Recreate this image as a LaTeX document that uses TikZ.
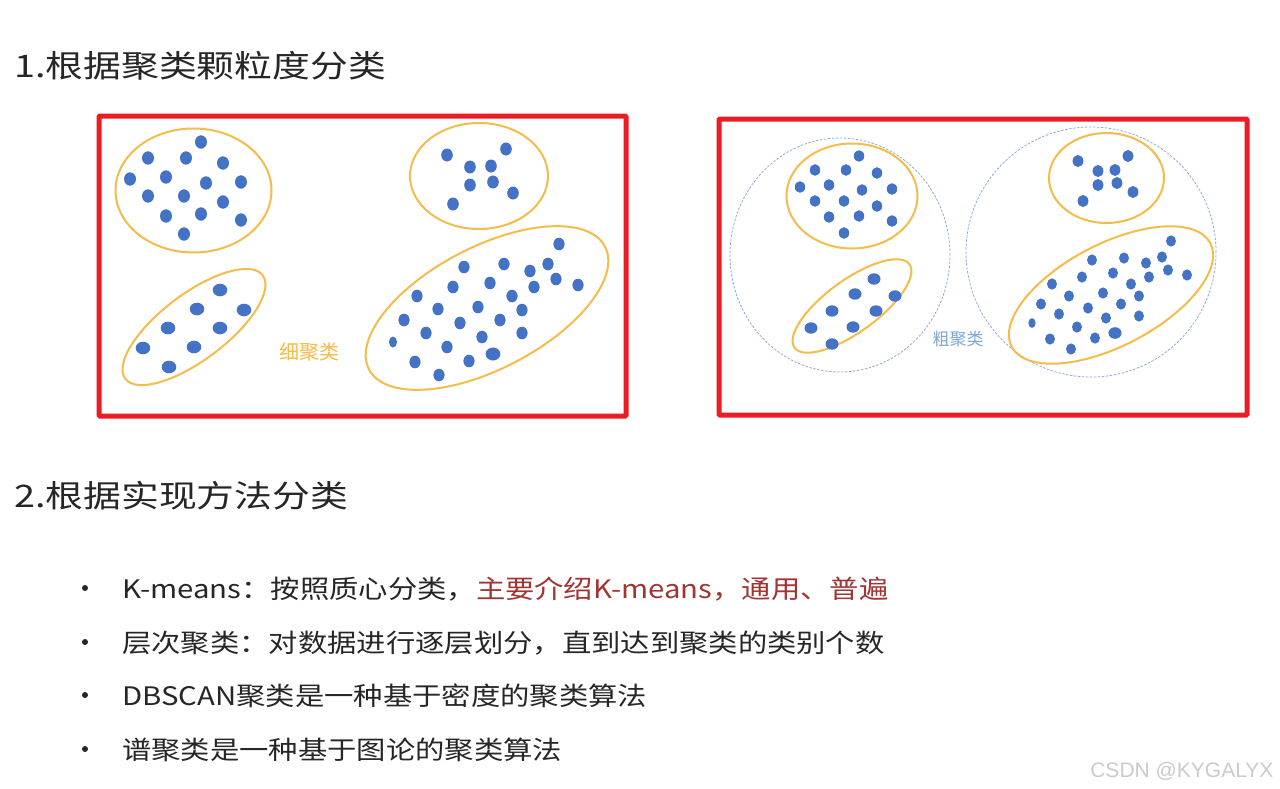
\documentclass[tikz,border=0pt]{standalone}
\usepackage{fontspec}
\setmainfont{Noto Sans CJK SC}
\newfontfamily\cjk{Noto Sans CJK SC}
\newfontfamily\cjkwide[FakeStretch=1.22]{Noto Sans CJK SC}
\newfontfamily\cjkitem[FakeStretch=1.15]{Noto Sans CJK SC}
\newfontfamily\wmfont{Liberation Sans}
\usepackage{tikz}
\usetikzlibrary{positioning}
\definecolor{frame}{HTML}{EC1C24}
\definecolor{gold}{HTML}{F4BC4A}
\definecolor{dotblue}{HTML}{4472C4}
\definecolor{halo}{HTML}{8FAADC}
\definecolor{halotext}{HTML}{7EA6D8}
\definecolor{ink}{HTML}{262626}
\definecolor{rust}{HTML}{A23433}
\definecolor{wmgray}{HTML}{CBCBCB}
\tikzset{
  panel/.style={draw=frame, line width=5pt, rounded corners=1pt},
  ring/.style={draw=gold, line width=2pt},
  coarse/.style={draw=halo, line width=0.8pt, dash pattern=on 2.5pt off 1.5pt},
  blob/.style={fill=dotblue},
  heading/.style={anchor=base west, inner sep=0pt, font=\cjkwide\fontsize{31}{36}\selectfont, text=ink},
  item/.style={anchor=base west, inner sep=0pt, font=\cjkitem\fontsize{25.5}{30}\selectfont, text=ink}
}

\begin{document}
\begin{tikzpicture}[x=1pt, y=-1pt]
  \useasboundingbox (0,0) rectangle (1280,788);
  \fill[white] (0,0) rectangle (1280,788);

  % Headings
  \node[heading] (headA) at (14,77) {1.根据聚类颗粒度分类};
  \node[heading] (headB) at (14,507) {2.根据实现方法分类};

  % Left panel: fine clustering
  \draw[panel] (99,116) rectangle (626,416);
  \draw[ring] (193.5,190.5) ellipse [x radius=78pt, y radius=62pt];
  \draw[ring, rotate around={37:(194,327)}] (194,327) ellipse [x radius=86pt, y radius=33pt];
  \draw[ring] (479,176) ellipse [x radius=69pt, y radius=53pt];
  \draw[ring, rotate around={27.5:(487,308)}] (487,308) ellipse [x radius=133pt, y radius=61pt];
  \foreach \x/\y in {148/158,186/158,201/142,223/163,130/179,166/177,206/183,241/182,
                     148/196,184/196,223/202,166/216,201/214,241/220,184/234}
    \fill[blob] (\x,\y) ellipse [x radius=6pt, y radius=6.7pt];
  \foreach \x/\y in {143/348,168/328,197/309,220/290,244/310,220/328,194/347,169/367}
    \fill[blob] (\x,\y) ellipse [x radius=7.3pt, y radius=6.3pt];
  \foreach \x/\y in {447/155,470/167,491/166,506/149,470/185,493/182,513/193,453/204}
    \fill[blob] (\x,\y) ellipse [x radius=5.8pt, y radius=6.5pt];
  \foreach \x/\y in {559/244,464/267,504/264,530/271,548/264,556/279,578/285,453/287,490/283,
                     534/287,417/296,512/296,438/309,478/307,522/310,404/320,460/323,500/320,
                     426/333,482/337,522/333,447/347,415/362,469/361,439/375}
    \fill[blob] (\x,\y) ellipse [x radius=5.6pt, y radius=6.3pt];
  \fill[blob] (393,342) ellipse [x radius=4pt, y radius=5.5pt];
  \fill[blob] (493,354) ellipse [x radius=7.4pt, y radius=6.5pt];
  \node[font=\cjk\fontsize{20}{24}\selectfont, text=gold] (fineLab) at (309,352) {细聚类};

  % Right panel: coarse clustering
  \draw[panel] (719,119) rectangle (1247,415);
  \draw[coarse] (840,255) ellipse [x radius=110pt, y radius=117pt];
  \draw[coarse] (1091,252) ellipse [x radius=125pt, y radius=125pt];
  \draw[ring] (852,196) ellipse [x radius=65.5pt, y radius=52.5pt];
  \draw[ring, rotate around={36:(852,306)}] (852,306) ellipse [x radius=71pt, y radius=26pt];
  \draw[ring] (1106.5,178) ellipse [x radius=57.5pt, y radius=45pt];
  \draw[ring, rotate around={27.5:(1111,295)}] (1111,295) ellipse [x radius=112pt, y radius=51pt];
  \foreach \x/\y in {859/156,815/170,846/170,877/173,800/187,829/185,862/190,892/189,
                     815/201,844/201,877/206,829/217,859/216,892/221,844/233}
    \fill[blob] (\x,\y) ellipse [x radius=5.2pt, y radius=5.8pt];
  \foreach \x/\y in {874/279,855/294,895/296,832/311,876/311,811/328,853/327,832/344}
    \fill[blob] (\x,\y) ellipse [x radius=6.5pt, y radius=5.7pt];
  \foreach \x/\y in {1078/161,1098/171,1115/170,1128/156,1098/185,1117/183,1133/192,1083/201}
    \fill[blob] (\x,\y) ellipse [x radius=5.4pt, y radius=6pt];
  \foreach \x/\y in {1171/241,1092/260,1124/258,1146/263,1162/257,1168/270,1187/275,1082/277,
                     1113/273,1149/277,1052/284,1131/284,1069/296,1103/293,1139/296,1041/304,
                     1088/308,1121/304,1059/314,1106/318,1139/316,1077/327,1050/339,1095/338,1071/349}
    \fill[blob] (\x,\y) ellipse [x radius=5pt, y radius=5.6pt];
  \fill[blob] (1032,323) ellipse [x radius=3.6pt, y radius=4.9pt];
  \fill[blob] (1115,333) ellipse [x radius=6.6pt, y radius=5.8pt];
  \node[font=\cjk\fontsize{17}{20}\selectfont, text=halotext] (coarseLab) at (958,339) {粗聚类};

  % Bullet list
  \foreach \i/\yb/\txt in {1/598/{K-means：按照质心分类，\textcolor{rust}{主要介绍K-means，通用、普遍}},
                           2/652/{层次聚类：对数据进行逐层划分，直到达到聚类的类别个数},
                           3/705/{DBSCAN聚类是一种基于密度的聚类算法},
                           4/759/{谱聚类是一种基于图论的聚类算法}} {
    \fill[ink] (85,\yb-10) circle (3pt);
    \node[item] (item\i) at (122,\yb) {\txt};
  }

  % Watermark
  \node[anchor=base east, font=\wmfont\fontsize{21}{24}\selectfont, text=wmgray] (wm) at (1277,777) {CSDN @KYGALYX};
\end{tikzpicture}
\end{document}
